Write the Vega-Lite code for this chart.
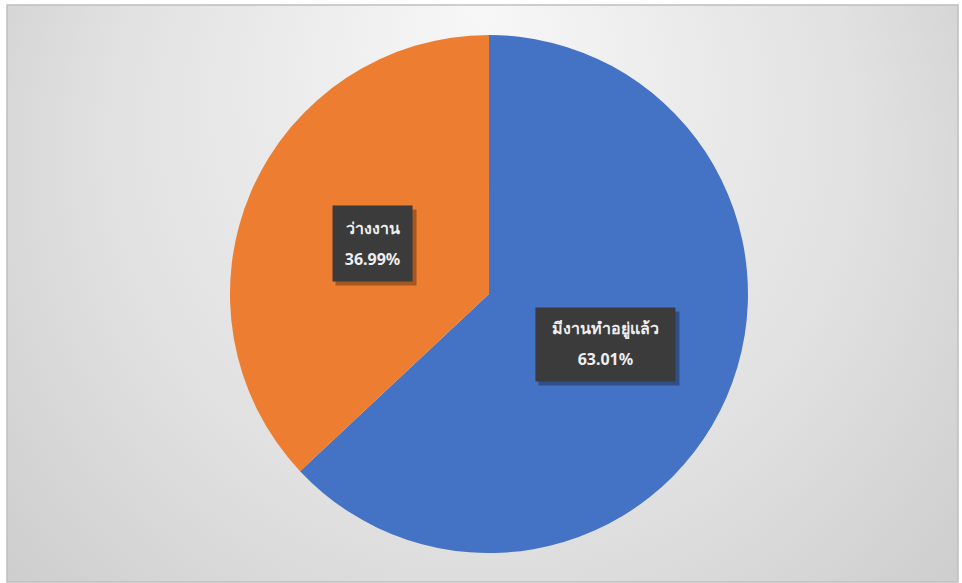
{
  "$schema": "https://vega.github.io/schema/vega-lite/v6.json",
  "autosize": {"type": "fit", "contains": "padding"},
  "width": 962,
  "height": 583,
  "padding": {"left": 7, "top": 5, "right": 4, "bottom": 1},
  "background": "#ffffff",
  "data": {
    "values": [
      {"label": "มีงานทำอยู่แล้ว", "value": 63.01, "order": 1},
      {"label": "ว่างงาน", "value": 36.99, "order": 2}
    ]
  },
  "transform": [
    {"stack": "value", "groupby": [], "sort": [{"field": "order", "order": "ascending"}], "as": ["v0", "v1"]},
    {"calculate": "PI * (datum.v0 + datum.v1) / 100", "as": "mid"},
    {"calculate": "0.49 * sin(datum.mid)", "as": "lx"},
    {"calculate": "0.49 * cos(datum.mid)", "as": "ly"},
    {"calculate": "datum.label + '\\n' + format(datum.value, '.2f') + '%'", "as": "txt"}
  ],
  "layer": [
    {
      "mark": {"type": "arc", "outerRadius": 259, "stroke": null},
      "encoding": {
        "x": {"datum": 0, "type": "quantitative", "axis": null, "scale": {"domain": [-1.861, 1.811], "nice": false, "zero": false}},
        "y": {"datum": 0, "type": "quantitative", "axis": null, "scale": {"domain": [-1.112, 1.116], "nice": false, "zero": false}},
        "theta": {"field": "v0", "type": "quantitative", "scale": {"domain": [0, 100]}},
        "theta2": {"field": "v1"},
        "color": {
          "field": "label",
          "type": "nominal",
          "scale": {"domain": ["มีงานทำอยู่แล้ว", "ว่างงาน"], "range": ["#4472C4", "#ED7D31"]},
          "legend": null
        }
      }
    },
    {
      "mark": {"type": "point", "filled": true, "size": 4, "fill": "#000000", "opacity": 0.3, "strokeWidth": 0},
      "encoding": {
        "x": {"field": "lx", "type": "quantitative"},
        "y": {"field": "ly", "type": "quantitative"},
        "shape": {
          "field": "label",
          "type": "nominal",
          "scale": {"domain": ["มีงานทำอยู่แล้ว", "ว่างงาน"], "range": ["M-67,-33H74V41H-67Z", "M-37,-34H44V42H-37Z"]},
          "legend": null
        }
      }
    },
    {
      "mark": {"type": "point", "filled": true, "size": 4, "fill": "#3b3b3b", "opacity": 1, "strokeWidth": 0},
      "encoding": {
        "x": {"field": "lx", "type": "quantitative"},
        "y": {"field": "ly", "type": "quantitative"},
        "shape": {
          "field": "label",
          "type": "nominal",
          "scale": {"domain": ["มีงานทำอยู่แล้ว", "ว่างงาน"], "range": ["M-70,-37H70V37H-70Z", "M-40,-38H40V38H-40Z"]},
          "legend": null
        }
      }
    },
    {
      "mark": {"type": "text", "lineBreak": "\n", "lineHeight": 31, "dy": -15, "fontSize": 16, "fontWeight": "bold", "font": "Noto Sans", "color": "#eeeeee", "align": "center", "baseline": "middle"},
      "encoding": {
        "x": {"field": "lx", "type": "quantitative"},
        "y": {"field": "ly", "type": "quantitative"},
        "text": {"field": "txt"}
      }
    }
  ],
  "resolve": {"scale": {"shape": "independent"}},
  "config": {
    "view": {
      "stroke": "#bfbfbf",
      "strokeWidth": 1.5,
      "fill": {
        "gradient": "radial",
        "x1": 0.5, "y1": 0.2, "r1": 0,
        "x2": 0.5, "y2": 0.45, "r2": 0.72,
        "stops": [
          {"offset": 0, "color": "#f7f7f7"},
          {"offset": 0.55, "color": "#e1e1e1"},
          {"offset": 1, "color": "#c6c6c6"}
        ]
      }
    }
  }
}
